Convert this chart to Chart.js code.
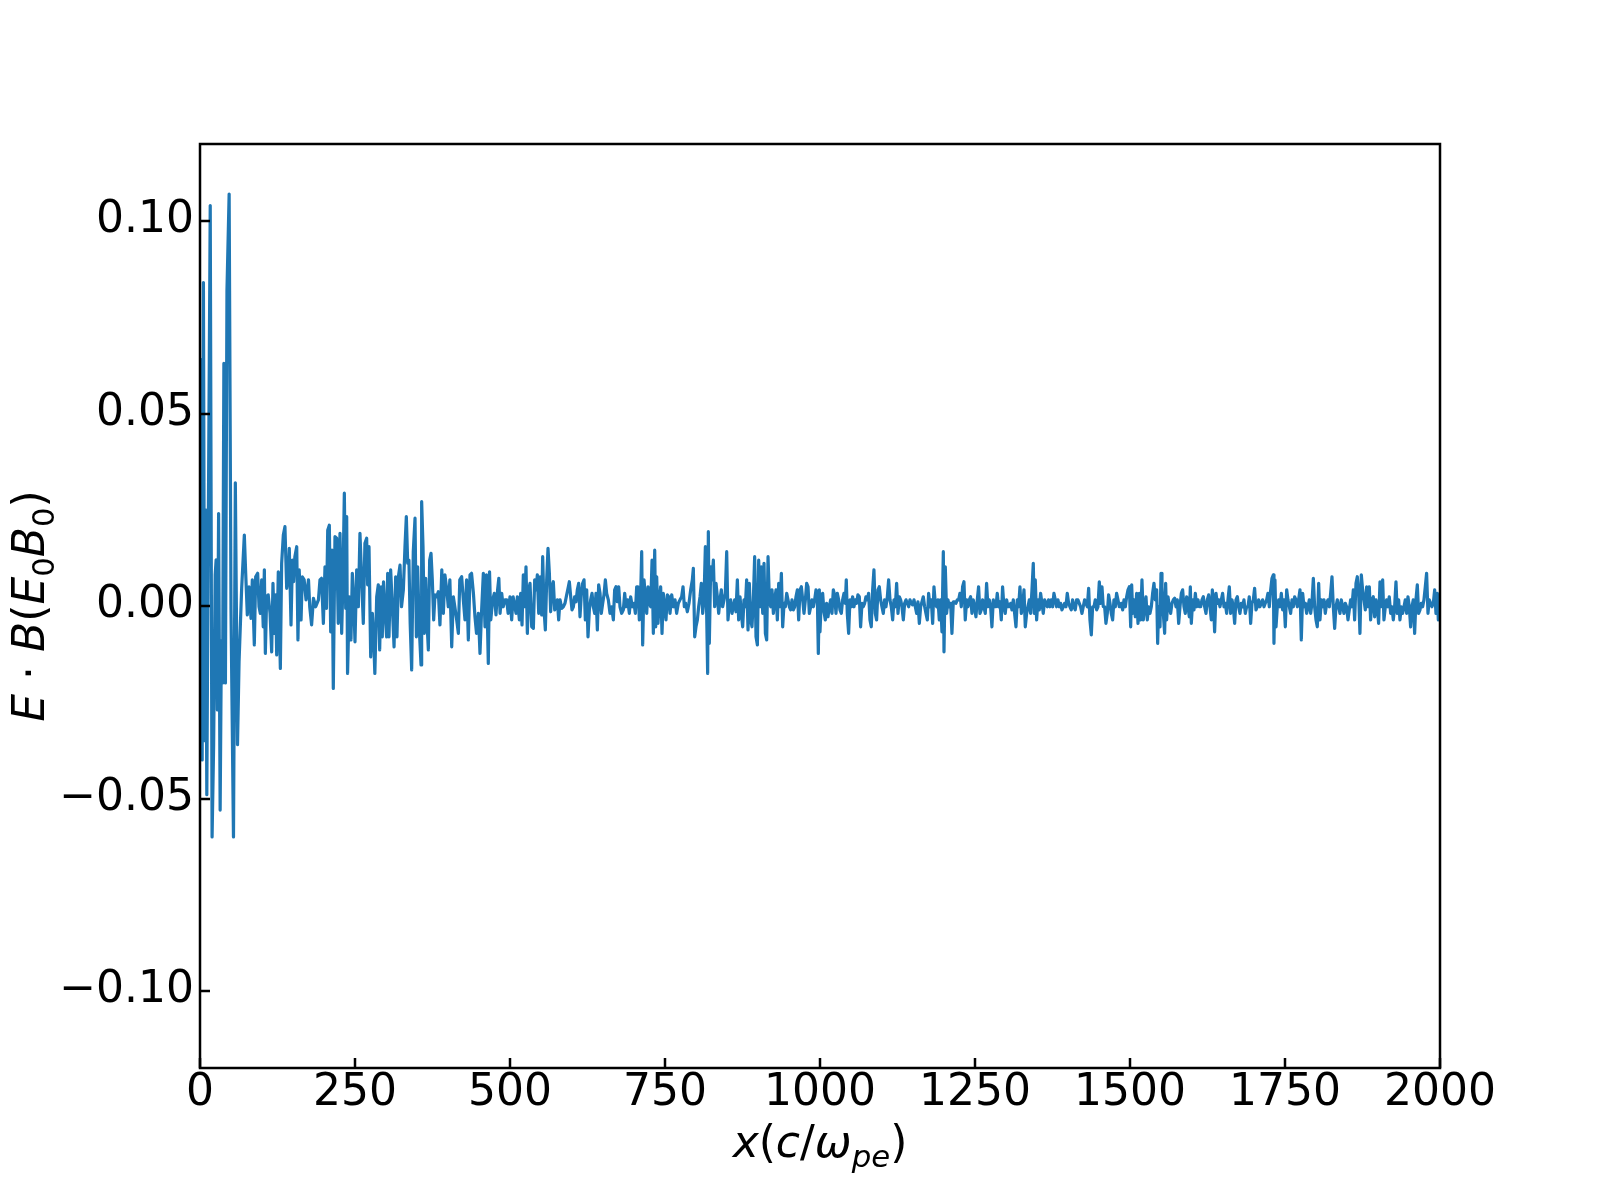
<!DOCTYPE html>
<html>
<head>
<meta charset="utf-8">
<title>E·B profile</title>
<script src="https://cdn.jsdelivr.net/npm/chart.js@4.4.0/dist/chart.umd.min.js"></script>
<style>
  html, body { margin: 0; padding: 0; background: #fff; }
  #wrap { width: 1600px; height: 1200px; }
</style>
</head>
<body>
<div id="wrap"><canvas id="ebChart" width="1600" height="1200"></canvas></div>
<script>
// positions are x in c/omega_pe, values are E.B in units of 1e-3 E0B0
const xEarly = [0, 1.5, 3.5, 5.5, 7.5, 9, 11, 13, 16.5, 19.5,
  22, 24.5, 26, 28, 30, 32.5, 34.5, 36.5, 38.5, 41,
  43.5, 47, 50, 54, 57, 60.5];
const yEarly = [10, 64, -40, 84, -35, 25, -49, 10, 104, -60,
  -36, 8, 12, -27, 24, -53, -9, -20, 63, -20,
  82, 107, -1, -60, 32, -36];

const xNear = [63, 67.2, 71.5, 73.7, 76.3, 79, 82.3, 84.4, 87.6, 89.8,
  93, 95.2, 97.3, 99.5, 102, 103.8, 105.4, 107.5, 110, 113,
  115.6, 117.7, 120, 122, 123.7, 126.3, 129.6, 131.7, 134.4, 137,
  139.8, 142.5, 144, 146.8, 149, 151, 153, 156, 158, 160,
  163, 165, 168, 171, 175, 177, 180, 183, 186.6, 191,
  193.5, 196, 199, 201.6, 204, 206, 208.6, 210.8, 213, 215,
  217.7, 220.4, 223, 225.8, 228.5, 230.6, 232.8, 235, 236.6, 238,
  240.9, 243.5, 245.7, 247.8, 250, 252.7, 255.4, 258, 260.8, 263.4,
  266, 268.8, 270.4, 272.6, 275.3, 278, 280, 282, 285, 287.6,
  289.8, 292, 294, 296, 298, 301, 302.7, 304.8, 307.5, 310,
  313, 315.6, 317.7, 320, 322.6, 325, 328, 330.6, 332.8, 335,
  337, 339, 341.4, 344, 346.8, 349, 351, 353.8, 356.5, 357.5,
  359.7, 361.8, 364, 366, 368.3, 370.4, 372.6, 374.7, 376.9, 379,
  381.7, 384.4, 387, 390, 392.5, 395, 398, 400.5, 403, 406,
  408.6, 411, 414, 416.7, 419, 422, 424.7, 427.4, 430, 432.8,
  435.5, 438, 441, 443.5, 446, 449, 451.6, 454, 457, 459.7,
  462, 465, 467, 469, 472, 474.7, 477.4, 480, 482, 484,
  486.6, 489, 492, 494.6, 497, 500, 502.7, 505];
const yNear = [-14.5, 4.6, 18.4, 8.5, -2.3, 5, -3.2, 6.8, -10.1, 7.6,
  8.5, -0.2, -1.9, 6.8, -5.4, 9.4, -12.3, 2.4, 2.9, -1.9,
  -11.9, 5.9, -7.1, 2.9, -12.7, 8.9, -16.2, 11.1, 18.4, 20.6,
  4.6, 8.1, 15, -4.9, 11.9, 6.3, 12.8, 15.4, -8.8, 9.4,
  -3.6, 7.6, 6.8, 1.6, 6.8, -0.2, -4.9, 2, -0.2, 1.6,
  6.8, 7.2, -4.5, 10.2, -0.6, 19.7, 21, -6.7, 14.5, -21.4,
  18, 17.6, -4.5, 18.9, -7.1, 6.8, 29.3, -0.6, 23.2, -17.5,
  2.4, -8.8, 8.5, 1.6, -9.3, 9.4, -0.2, 18.9, 6.8, -4.5,
  16.3, 17.6, 5.5, 15.4, -13.2, -1.9, -8, -17.5, 2.4, 5.5,
  -11.4, 5, -8, 6.3, -0.2, -8, 8.5, -8, 9.4, 0.7,
  -10.6, 7.6, -8, 7.6, 10.6, -0.2, 4.2, 15.4, 23.2, 11.1,
  11.9, -4.5, -16.6, 14.1, 22.8, -8, 10.2, -6.2, -15.3, 27.1,
  15.4, -7.1, 7.2, -3.6, -11.4, 11.9, 13.7, 6.8, -3.6, 2.9,
  2.4, 3.7, -4.9, 9.4, -1.9, 8.1, 4.2, -0.2, 6.8, -10.6,
  2.4, -0.2, -3.6, -7.1, 6.8, 7.6, 1.6, -3.6, 6.8, -8.8,
  8.1, 8.5, 3.3, -2.8, -7.1, -1.9, -12.3, -1.9, 8.5, -5.4,
  8.1, -14.9, 8.9, -3.6, 1.6, 3.3, -2.3, 4.2, 7.2, -1.9,
  3.3, -0.2, 1.6, 1.6, -1.9, 2.4, -3.6, 2.4];

const xMid = [509.7, 511.9, 515.1, 517.2, 519.4, 521.5, 523.7, 525.8, 528.0, 530.1,
  532.3, 535.0, 537.7, 539.8, 542.0, 544.1, 546.3, 548.4, 551.1, 552.7,
  554.9, 557.0, 559.2, 561.3, 563.5, 565.6, 567.8, 569.9, 572.1, 574.2,
  576.4, 578.5, 580.7, 583.4, 586.0, 588.7, 591.4, 593.6, 595.7, 597.9,
  600.0, 602.2, 604.3, 606.5, 608.6, 610.8, 612.9, 615.1, 617.2, 619.4,
  621.5, 623.7, 625.8, 628.0, 630.1, 632.3, 634.4, 636.6, 638.7, 640.9,
  643.0, 645.2, 647.3, 649.5, 651.6, 653.8, 655.9, 658.6, 661.3, 664.0,
  666.7, 668.8, 671.0, 673.1, 675.3, 677.4, 680.1, 682.8, 685.0, 687.1,
  689.8, 692.5, 694.6, 697.3, 700.0, 702.2, 704.3, 706.5, 708.6, 710.8,
  712.4, 714.0, 716.2, 718.3, 720.5, 722.6, 724.8, 726.9, 729.1, 731.2,
  733.4, 735.0, 736.6, 738.7, 740.9, 743.0, 745.2, 747.3, 749.5, 751.6,
  753.8, 755.9, 758.1, 760.8, 763.5, 766.2, 768.8, 771.5, 774.2, 776.9,
  779.1, 781.2, 783.4, 786.0, 788.7, 791.4, 794.1, 795.7, 797.9, 800.0,
  802.2, 804.3, 806.5, 808.6, 810.8, 812.9, 815.1, 817.2, 818.8, 819.9,
  821.5, 823.7, 825.8, 828.0, 830.1, 832.3, 834.4, 836.6, 838.7, 840.9,
  843.0, 845.2, 847.3, 849.5, 851.6, 853.8, 855.9, 858.1, 860.2, 862.4,
  864.5, 866.7, 868.8, 871.0, 873.1, 875.3, 877.4, 879.6, 881.7, 883.9,
  886.0, 888.2, 890.3, 892.5, 894.6, 896.8, 899.0, 901.1, 903.3, 905.4,
  907.6, 909.7, 911.9, 914.0, 916.2, 918.3, 920.5, 922.6, 924.8, 926.9,
  929.1, 931.2, 933.4, 935.5, 937.7, 939.8, 942.0, 944.1, 946.3, 948.4,
  950.6, 952.7, 954.9, 957.0, 959.2, 961.3, 963.5, 965.6, 967.8, 969.9,
  972.1, 974.2, 976.4, 978.5, 980.7, 982.8, 985.0, 987.1, 989.3, 991.4,
  993.6, 995.7, 997.3, 998.9];
const yMid = [-1.9, 2.4, -3.6, 3.3, -4.9, 8.1, -0.2, 10.2, -7.1, 4.2,
  5.9, -5.4, -5.8, 6.8, 4.2, 8.1, -1.9, 7.6, -2.3, 12.8,
  -1.0, -6.2, 6.8, 15, 8.5, -1.5, 5, 6.3, -1, -0.2,
  1.6, -3.6, 1.6, -0.6, -0.2, 0.7, 2.9, 4.6, 6.3, 2.4,
  -1, -0.2, 2.4, 1.1, 4.2, 5.9, -2.8, 3.3, 5.9, 6.8,
  -3.6, 4.2, -8, -1, 1.6, 3.3, -0.2, -1.9, 3.3, -6.2,
  5.5, 3.3, -1.9, 0.7, 2.9, 6.8, 3.3, 1.6, -1.9, -0.2,
  -3.6, 4.2, 5, 1.1, 5, -0.2, -1.9, -1, 3.3, -0.2,
  1.6, -1.9, 2.4, -0.2, 0.7, -1.9, 5, 5, -3.6, 3.3,
  14.1, -10.1, 6.8, 2.4, -1.9, 5, 0.7, -0.2, 11.9, -7.1,
  14.5, -5.4, 7.6, -4.5, 1.6, 5, -7.1, 3.3, -0.2, -3.6,
  2.9, 2.4, -1.9, 2.9, -0.2, 1.6, -1.9, 0.7, 1.6, 2.4,
  5, -0.2, 0.7, -1.5, 0.7, 4.2, 6.8, 9.8, -8, -5.4,
  -3.6, -0.2, 2.4, 5.9, -1.9, 1.6, 15.4, -1.9, -17.5, 19.3,
  -9.7, 10.2, 6.8, 11.9, -0.2, 5.9, 2.4, -1.9, 1.6, 4.2,
  -0.2, 1.6, 3.3, 14.1, -3.6, 0.7, 1.6, -1.9, -0.2, 1.6,
  -1.5, 6.8, -3.6, 2.4, -1.9, -5.4, 1.6, -0.2, 6.8, -6.2,
  5.9, -3.6, -5.4, 1.6, 12.8, -8, -10.1, 11.9, -0.2, 10.2,
  -1.9, 11.1, -7.1, -8.8, 12.8, 1.6, -0.2, 4.2, -1.9, 1.6,
  4.2, -3.6, 5.9, -0.2, 8.5, -5.4, 0.7, -0.2, 3.3, 1.6,
  -0.2, -1, 1.6, -1, -0.2, 2.4, 4.2, -3.6, 4.2, 5,
  1.6, -1.9, 1.6, 5.9, 5, -1.9, -0.2, 1.6, -0.2, 1.6,
  4.2, 2.4, -12.3, 4.2];

const xFar = [1000.0, 1002.1, 1004.3, 1006.4, 1008.6, 1010.7, 1012.9, 1015.0, 1017.2, 1019.3,
  1021.5, 1023.6, 1025.8, 1027.9, 1030.1, 1032.2, 1034.4, 1036.5, 1038.7, 1040.8,
  1042.4, 1044.0, 1046.2, 1048.3, 1050.5, 1052.6, 1054.8, 1056.9, 1059.1, 1061.2,
  1063.4, 1065.5, 1067.7, 1069.8, 1072.0, 1074.1, 1076.3, 1078.4, 1080.6, 1082.7,
  1084.9, 1087.0, 1089.2, 1091.3, 1093.5, 1095.6, 1097.8, 1099.9, 1102.1, 1104.2,
  1106.4, 1108.6, 1110.7, 1112.9, 1115.0, 1117.2, 1119.3, 1121.5, 1123.6, 1125.8,
  1127.9, 1130.1, 1132.2, 1134.4, 1136.5, 1138.7, 1140.8, 1143.0, 1145.1, 1147.3,
  1149.4, 1151.6, 1153.7, 1155.9, 1158.0, 1160.2, 1162.3, 1164.5, 1166.6, 1168.8,
  1170.9, 1173.1, 1175.2, 1177.4, 1179.5, 1181.7, 1183.8, 1186.0, 1188.1, 1190.3,
  1192.4, 1194.6, 1196.7, 1198.9, 1200.0, 1202.1, 1204.2, 1206.4, 1208.5, 1210.7,
  1212.8, 1215.0, 1217.1, 1219.3, 1221.4, 1223.6, 1225.7, 1227.9, 1230.0, 1232.2,
  1234.3, 1236.5, 1238.6, 1240.8, 1242.9, 1245.1, 1247.2, 1249.4, 1251.5, 1253.7,
  1255.8, 1258.0, 1260.1, 1262.3, 1264.4, 1266.6, 1268.7, 1270.9, 1273.0, 1275.2,
  1277.3, 1279.5, 1281.6, 1283.8, 1285.9, 1288.1, 1290.2, 1292.4, 1294.5, 1296.7,
  1298.8, 1301.0, 1303.2, 1305.3, 1307.5, 1309.6, 1311.8, 1313.9, 1316.1, 1318.2,
  1320.4, 1322.5, 1324.7, 1326.8, 1329.0, 1331.1, 1333.3, 1335.4, 1337.6, 1339.7,
  1341.9, 1344.0, 1345.6, 1347.2, 1349.4, 1351.5, 1353.7, 1355.8, 1358.0, 1360.1,
  1362.3, 1364.4, 1366.6, 1368.7, 1370.9, 1373.0, 1375.2, 1377.3, 1379.5, 1381.6,
  1383.8, 1385.9, 1388.1, 1390.2, 1392.4, 1394.5, 1396.7, 1398.8, 1401.0, 1403.1,
  1405.3, 1407.4, 1409.6, 1411.7, 1413.9, 1416.0, 1418.2, 1420.3, 1422.5, 1424.6,
  1426.8, 1428.9, 1431.1, 1433.3, 1435.4, 1437.6, 1439.7, 1441.9, 1444.0, 1446.2,
  1448.3, 1450.5, 1452.6, 1454.8, 1456.9, 1459.1, 1461.2, 1463.4, 1465.5, 1467.7,
  1469.8, 1472.0, 1474.1, 1476.3, 1478.4, 1480.6, 1482.7];
const yFar = [-6.7, 1.6, 3.3, -1.5, -3.6, 0.7, -2.8, -0.2, 1.6, -1.9,
  4.2, 2.9, -1.9, 3.3, 1.6, -1.0, -1.9, 1.6, 3.3, 0.7,
  6.8, -1.9, -7.1, 1.6, -0.2, 2.4, -0.2, 1.6, 0.7, 2.9,
  2.4, -5.4, 0.7, -0.2, 0.7, 2.4, 1.6, 3.3, -3.6, -5.4,
  4.2, 9.4, -1.9, -3.6, 4.2, 5.0, 1.6, -0.2, -1.9, 1.6,
  -0.2, 2.4, 6.8, 1.6, -0.2, -3.6, 1.6, -0.2, 5.9, -1.9,
  2.4, 1.6, -0.2, -3.6, 0.7, 1.6, 0.7, -0.2, 1.6, 0.7,
  0.3, 1.6, -0.2, -1.9, 1.1, -4.5, -0.2, 1.1, 2.4, -0.2,
  -1.9, -3.6, 3.3, -0.2, 1.6, -4.5, 5.0, 0.7, -0.2, 1.6,
  -3.6, 1.6, -6.7, 14.1, -11.9, 10.2, -1.9, 1.6, -0.2, 0.7,
  -7.1, 1.1, 1.1, 0.7, 1.6, 1.6, 3.3, -0.2, 5.0, 6.3,
  -3.6, 1.6, -0.2, 1.6, 2.4, -1.9, 1.6, -0.2, -2.8, 1.6,
  5.0, -1.9, -1.0, 1.6, -0.2, -1.9, 5.9, -0.2, 1.6, -0.2,
  -5.4, 1.6, -0.2, -0.2, 3.3, -0.2, 1.1, -3.6, 5.0, -0.2,
  -1.9, 1.6, -0.2, -0.2, 0.7, -1.0, 1.6, -1.9, -5.4, 1.6,
  -0.2, 5.0, -1.9, -0.2, 4.2, -5.4, -1.9, -0.2, 1.6, -1.9,
  4.2, 11.1, -1.9, 6.8, -3.6, 1.6, -1.0, 3.3, 0.7, -1.9,
  1.6, 0.7, -0.2, 1.6, -0.2, 1.6, -0.2, 3.3, 1.6, -0.2,
  1.6, -0.2, 0.7, -1.0, -0.2, 0.7, -0.2, 3.3, 0.7, -0.2,
  -1.0, 1.6, -0.2, -1.0, 1.6, 1.6, 0.7, -0.2, -1.9, -0.2,
  1.6, 0.7, -0.2, 4.6, -3.6, -7.5, -0.2, -0.2, 1.6, -1.0,
  -0.2, 6.3, 0.7, 5.0, -0.2, -0.2, -4.5, -1.9, 2.9, 0.7,
  -1.9, -3.6, 1.6, -0.2, 3.3, 1.6, -0.2];

const xEnd = [1483.9, 1486.0, 1488.2, 1490.3, 1492.5, 1494.6, 1496.8, 1498.9, 1501.1, 1502.7,
  1504.3, 1506.4, 1508.6, 1510.7, 1512.9, 1515.0, 1517.2, 1519.3, 1521.5, 1523.6,
  1525.8, 1527.9, 1530.1, 1532.2, 1534.4, 1536.5, 1538.7, 1540.8, 1543.0, 1544.6,
  1546.2, 1548.4, 1550.0, 1551.6, 1553.7, 1555.9, 1557.5, 1559.1, 1561.3, 1563.4,
  1565.6, 1567.7, 1569.9, 1572.0, 1574.2, 1576.3, 1578.5, 1580.6, 1582.8, 1584.9,
  1587.1, 1589.2, 1591.4, 1593.5, 1595.7, 1597.3, 1598.9, 1601.1, 1603.2, 1605.4,
  1607.5, 1609.7, 1611.8, 1614.0, 1616.1, 1618.3, 1620.4, 1622.6, 1624.7, 1626.9,
  1629.0, 1631.2, 1632.8, 1634.4, 1636.5, 1638.7, 1640.8, 1643.0, 1645.1, 1647.3,
  1649.4, 1651.6, 1653.7, 1655.9, 1658.0, 1660.2, 1662.3, 1664.5, 1666.6, 1668.8,
  1670.9, 1673.1, 1675.2, 1677.4, 1679.5, 1681.7, 1683.8, 1686.0, 1688.1, 1690.3,
  1692.4, 1694.6, 1696.7, 1698.9, 1701.0, 1703.2, 1705.3, 1707.5, 1709.6, 1711.8,
  1713.9, 1716.1, 1718.2, 1720.4, 1722.5, 1724.7, 1726.9, 1729.0, 1731.2, 1732.2,
  1733.8, 1735.5, 1737.6, 1739.8, 1741.9, 1744.1, 1746.2, 1748.4, 1750.5, 1752.7,
  1754.8, 1757.0, 1759.1, 1761.3, 1763.4, 1765.6, 1767.7, 1769.9, 1772.0, 1774.2,
  1776.3, 1778.5, 1780.6, 1782.8, 1784.9, 1787.1, 1789.2, 1791.4, 1793.5, 1795.7,
  1797.8, 1800.0, 1802.1, 1804.3, 1806.4, 1808.6, 1810.7, 1812.9, 1815.0, 1817.2,
  1819.3, 1821.5, 1823.6, 1825.8, 1827.9, 1830.1, 1832.2, 1834.4, 1836.5, 1838.7,
  1840.8, 1843.0, 1845.1, 1847.3, 1849.4, 1851.6, 1853.7, 1855.9, 1858.0, 1860.2,
  1862.3, 1864.5, 1866.6, 1868.8, 1870.9, 1873.1, 1875.2, 1877.4, 1879.5, 1881.7,
  1883.8, 1886.0, 1888.1, 1890.3, 1892.4, 1894.6, 1896.7, 1898.9, 1901.0, 1903.2,
  1905.3, 1907.5, 1909.6, 1911.8, 1913.9, 1916.1, 1918.2, 1920.4, 1922.5, 1924.7,
  1926.8, 1929.0, 1931.1, 1933.3, 1935.4, 1937.6, 1939.7, 1941.9, 1944.0, 1946.2,
  1948.3, 1950.5, 1952.6, 1954.8, 1956.9, 1959.1, 1961.2, 1963.4, 1965.5, 1967.7,
  1969.8, 1972.0, 1974.1, 1976.3, 1978.4, 1980.6, 1982.7, 1984.9, 1987.0, 1989.2,
  1991.4, 1993.5, 1995.7, 1997.3, 2000];
const yEnd = [-0.2, 0.7, -1.0, 1.6, -0.2, 2.4, 4.2, 5.0, -5.4, 5.5,
  -1.9, 1.6, -2.8, 3.3, -4.5, 3.3, -3.6, 6.8, -3.6, -0.2,
  2.4, -3.6, -0.2, -1.9, -0.2, 3.3, 5.9, 1.6, 4.2, -9.7,
  -0.2, -5.4, 8.5, 5.0, -1.9, -7.1, 5.9, -3.6, 2.4, -0.2,
  -1.9, 0.7, 1.6, 2.0, -0.2, 1.6, -4.5, -0.2, 3.3, 4.2,
  -0.2, -1.9, 2.4, -0.2, -2.8, 5.0, -4.5, 1.6, -1.0, 3.3,
  -0.2, 1.6, -0.2, -0.2, 1.6, 2.4, -0.2, -1.9, 1.6, 2.9,
  -0.2, -3.6, 4.2, 1.6, -6.7, 3.3, 0.7, 1.6, -0.2, 1.6,
  3.3, -0.2, 0.7, -1.9, 1.6, 5.0, -1.9, 1.6, -0.2, -4.5,
  1.6, 2.4, -0.2, -1.9, 0.7, -0.2, 1.6, -1.9, -0.2, -0.2,
  2.4, -4.5, 0.7, 1.6, 4.6, -1.0, -0.2, 1.6, -0.2, 0.7,
  1.6, -0.2, 0.7, 1.6, 3.3, -0.2, 4.2, 7.2, 8.1, -9.7,
  6.8, -5.4, -0.2, 1.6, -0.2, 3.3, -1.0, 1.6, -5.4, 4.2,
  1.6, -0.2, -1.9, 1.6, -0.2, 2.4, 1.6, -0.2, 1.6, 4.2,
  -8.8, 3.3, -0.2, 0.7, -1.9, -0.2, 1.6, -1.9, 0.7, 7.2,
  -0.2, -3.6, -5.4, 5.9, -3.6, 1.6, -0.2, 1.6, -1.9, 0.7,
  1.6, -0.2, 3.3, 7.6, -0.2, -5.8, -0.2, 1.6, -0.2, -1.9,
  1.6, -0.2, -1.9, 0.7, -0.2, -3.6, -1.0, 1.6, -0.2, 4.2,
  -3.6, 5.9, 7.6, 3.3, -7.1, 8.1, 4.2, 1.6, -1.0, 5.0,
  -0.2, 5.0, -3.6, 1.6, 2.4, -2.8, 1.6, -0.2, -4.5, 6.3,
  -0.2, 6.8, -3.6, -0.2, 1.6, -0.2, 2.4, -1.9, -0.2, -3.6,
  -0.2, 6.3, -1.9, 1.6, -3.6, -0.2, -1.9, -0.2, 1.6, -1.9,
  2.4, -0.2, -5.4, -0.2, 1.6, -7.1, 1.6, 5.5, -1.9, -1.0,
  0.7, -0.2, 1.6, 5.0, 8.5, -1.9, 1.6, 0.7, -0.2, 0.7,
  4.2, -1.9, 3.3, -3.6, 1.0];

const xTicks = [0, 250, 500, 750, 1000, 1250, 1500, 1750, 2000];
const yTicks = [-0.10, -0.05, 0.00, 0.05, 0.10];

const FONT = '"DejaVu Sans", "Liberation Sans", sans-serif';

const positions = [...xEarly, ...xNear, ...xMid, ...xFar, ...xEnd];
const values = [...yEarly, ...yNear, ...yMid, ...yFar, ...yEnd];
const points = positions.map((x, i) => ({ x: x, y: values[i] / 1000 }));

// draws a short mathtext-like label: italic symbols, upright digits, subscripts
function drawMath(ctx, parts, size) {
  let total = 0;
  const items = parts.map((p) => {
    const s = p.sub ? size * 0.7 : size;
    const font = (p.it ? 'italic ' : '') + s + 'px ' + FONT;
    ctx.font = font;
    const w = ctx.measureText(p.t).width;
    total += w;
    return { t: p.t, sub: p.sub, font: font, w: w };
  });
  let x = -total / 2;
  items.forEach((it) => {
    ctx.font = it.font;
    ctx.fillText(it.t, x, it.sub ? size * 0.22 : 0);
    x += it.w;
  });
}

const xLabel = [
  { t: 'x', it: true }, { t: '(' }, { t: 'c', it: true }, { t: '/' },
  { t: 'ω', it: true }, { t: 'pe', it: true, sub: true }, { t: ')' },
];
const yLabel = [
  { t: 'E', it: true }, { t: ' · ' }, { t: 'B', it: true }, { t: '(' },
  { t: 'E', it: true }, { t: '0', sub: true }, { t: 'B', it: true }, { t: '0', sub: true }, { t: ')' },
];

// frame, inward ticks and axis titles
const framePlugin = {
  id: 'frame',
  afterDraw(chart) {
    const { ctx, chartArea: a, scales } = chart;
    ctx.save();
    ctx.strokeStyle = '#000';
    ctx.lineWidth = 2.5;
    ctx.strokeRect(a.left, a.top, a.right - a.left, a.bottom - a.top);
    ctx.beginPath();
    xTicks.forEach((v) => {
      const px = Math.round(scales.x.getPixelForValue(v));
      ctx.moveTo(px, a.bottom);
      ctx.lineTo(px, a.bottom - 10);
    });
    yTicks.forEach((v) => {
      const py = Math.round(scales.y.getPixelForValue(v));
      ctx.moveTo(a.left, py);
      ctx.lineTo(a.left + 10, py);
    });
    ctx.stroke();

    ctx.fillStyle = '#000';
    ctx.textAlign = 'left';
    ctx.textBaseline = 'alphabetic';
    ctx.save();
    ctx.translate((a.left + a.right) / 2, 1157);
    drawMath(ctx, xLabel, 44);
    ctx.restore();
    ctx.save();
    ctx.translate(44, (a.top + a.bottom) / 2);
    ctx.rotate(-Math.PI / 2);
    drawMath(ctx, yLabel, 44);
    ctx.restore();
    ctx.restore();
  },
};

const ctx = document.getElementById('ebChart').getContext('2d');
const ebChart = new Chart(ctx, {
  type: 'line',
  data: {
    datasets: [
      {
        data: points,
        borderColor: '#1f77b4',
        borderWidth: 3.2,
        borderJoinStyle: 'round',
        pointRadius: 0,
        tension: 0,
        fill: false,
      },
    ],
  },
  options: {
    responsive: false,
    animation: false,
    devicePixelRatio: 1,
    layout: { padding: { left: 0, right: 160, top: 144, bottom: 0 } },
    plugins: { legend: { display: false }, tooltip: { enabled: false } },
    scales: {
      x: {
        type: 'linear',
        min: 0,
        max: 2000,
        grid: { display: false, drawTicks: false },
        border: { display: false },
        afterBuildTicks: (axis) => {
          axis.ticks = xTicks.map((v) => ({ value: v }));
        },
        afterFit: (axis) => {
          axis.height = 132;
        },
        ticks: {
          color: '#000',
          font: { family: FONT, size: 44 },
          padding: -1,
          maxRotation: 0,
          autoSkip: false,
          callback: (v) => String(v),
        },
      },
      y: {
        type: 'linear',
        min: -0.12,
        max: 0.12,
        grid: { display: false, drawTicks: false },
        border: { display: false },
        afterBuildTicks: (axis) => {
          axis.ticks = yTicks.map((v) => ({ value: v }));
        },
        afterFit: (axis) => {
          axis.width = 200;
        },
        ticks: {
          color: '#000',
          font: { family: FONT, size: 44 },
          padding: 6,
          autoSkip: false,
          callback: (v) => (v < 0 ? '\u2212' : '') + Math.abs(v).toFixed(2),
        },
      },
    },
  },
  plugins: [framePlugin],
});
</script>
</body>
</html>
